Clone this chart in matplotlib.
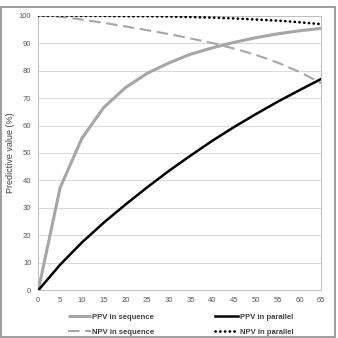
import matplotlib
matplotlib.use("Agg")
import matplotlib.pyplot as plt
from matplotlib.patches import Rectangle

# prevalence (%)
prev = [0, 5, 10, 15, 20, 25, 30, 35, 40, 45, 50, 55, 60, 65]

ppv_seq = [0, 37.3, 55.3, 66.5, 73.8, 79.0, 82.8, 86.0, 88.3, 90.3, 92.0, 93.4, 94.5, 95.4]
npv_seq = [100, 99.6, 98.6, 97.4, 96.1, 94.7, 93.3, 91.7, 90.0, 88.0, 85.7, 82.9, 79.5, 75.4]
ppv_par = [0, 9.3, 17.4, 24.6, 31.2, 37.5, 43.5, 49.1, 54.5, 59.5, 64.2, 68.7, 72.9, 77.0]
npv_par = [100, 100, 99.9, 99.9, 99.8, 99.8, 99.7, 99.5, 99.3, 99.0, 98.6, 98.2, 97.6, 96.9]

xticks = list(range(0, 70, 5))
yticks = list(range(0, 110, 10))

plt.rcParams['font.family'] = ['Liberation Sans', 'DejaVu Sans']

fig = plt.figure(figsize=(3.38, 3.38), dpi=100)
ax = fig.add_axes([0.1133, 0.1411, 0.8375, 0.8125])

grey = '#a6a6a6'
c_ppv_seq, = ax.plot(prev, ppv_seq, color=grey, lw=2.2, solid_capstyle='butt', zorder=3)
c_npv_seq, = ax.plot(prev, npv_seq, color=grey, lw=1.5, linestyle=(0, (5.5, 2.7)), zorder=3)
c_ppv_par, = ax.plot(prev, ppv_par, color='black', lw=1.8, zorder=4)
c_npv_par, = ax.plot(prev, npv_par, color='black', lw=1.9, linestyle=(0, (0.1, 1.7)),
                     dash_capstyle='round', zorder=4)

ax.set_xlim(0, 65)
ax.set_ylim(0, 100)
ax.set_xticks(xticks)
ax.set_yticks(yticks)
ax.tick_params(length=0, labelsize=5.5, labelcolor='#595959', pad=5)
ax.grid(axis='y', color='#d9d9d9', lw=0.7)
ax.set_axisbelow(True)
for s in ax.spines.values():
    s.set_color('#bfbfbf')
    s.set_linewidth(0.7)
ax.set_ylabel('Predictive value (%)', fontsize=6.5, color='#404040', labelpad=3)

# legend, two columns as in the original
kw = dict(loc='upper left', frameon=False, fontsize=5.5, handlelength=3.0,
          handletextpad=0.2, labelspacing=0.95, borderpad=0, labelcolor='#404040')
leg1 = fig.legend([c_ppv_seq, c_npv_seq], ['PPV in sequence', 'NPV in sequence'],
                  bbox_to_anchor=(0.19, 0.083), **kw)
leg2 = fig.legend([c_ppv_par, c_npv_par], ['PPV in parallel', 'NPV in parallel'],
                  bbox_to_anchor=(0.625, 0.083), **kw)
for t in leg1.get_texts() + leg2.get_texts():
    t.set_fontweight('bold')

# outer frame
fig.patches.append(Rectangle((1 / 338, 1 / 338), 334 / 338, 330 / 338, transform=fig.transFigure,
                             fill=False, edgecolor='#8c8c8c', lw=1.2))

fig.savefig('out.png', dpi=100)
